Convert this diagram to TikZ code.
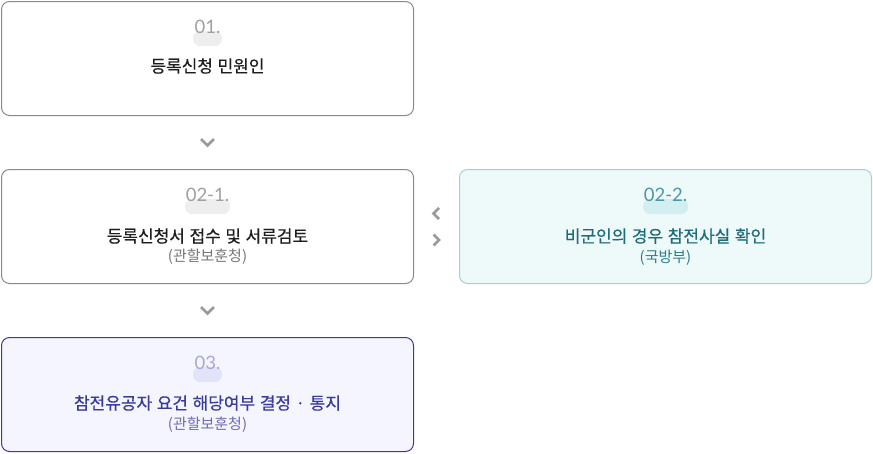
\documentclass[tikz,border=0pt]{standalone}
\usepackage{fontspec}
\setmainfont[WordSpace=1.3]{Noto Sans CJK KR}
\newfontfamily\ttlfont[WordSpace=1.2,FakeBold=0.4]{Noto Sans CJK KR}
\newfontfamily\numfont{Lato}
\usetikzlibrary{calc}
\definecolor{graybd}{HTML}{8A8A8A}
\definecolor{chevc}{HTML}{9A9A9A}
\definecolor{graynum}{HTML}{A0A0A0}
\definecolor{graypill}{HTML}{EEEEEE}
\definecolor{graytitle}{HTML}{1E1E1E}
\definecolor{graysub}{HTML}{777777}
\definecolor{tealbd}{HTML}{9ED4D6}
\definecolor{tealfill}{HTML}{EEF9FA}
\definecolor{tealnum}{HTML}{4A98A3}
\definecolor{tealpill}{HTML}{D2EEF0}
\definecolor{tealtitle}{HTML}{1E6C78}
\definecolor{tealsub}{HTML}{2E7E89}
\definecolor{indbd}{HTML}{3A3AA6}
\definecolor{indfill}{HTML}{F5F5FF}
\definecolor{indnum}{HTML}{A8A8D8}
\definecolor{indpill}{HTML}{E2E2F8}
\definecolor{indtitle}{HTML}{3A3A9C}
\definecolor{indsub}{HTML}{6C6CB2}
\tikzset{
  box/.style={draw, line width=1pt, rounded corners=8pt, minimum width=412pt, minimum height=114pt, inner sep=0pt},
  pill/.style={rounded corners=7pt, minimum height=15pt, inner sep=0pt},
  numtxt/.style={font=\numfont\fontsize{18.5pt}{18.5pt}\selectfont, inner sep=0pt},
  ttl/.style={font=\ttlfont\fontsize{17pt}{17pt}\selectfont, inner sep=0pt},
  subt/.style={font=\fontsize{15pt}{15pt}\selectfont, inner sep=0pt},
  chev/.style={draw=chevc, line width=2.8pt, line cap=butt, line join=miter}
}
\begin{document}
\begin{tikzpicture}[x=1pt,y=-1pt]
\useasboundingbox (0,0) rectangle (873,453);
% boxes
\node[box, draw=graybd, fill=white] (b1) at (207.5,58.5) {};
\node[box, draw=graybd, fill=white] (b21) at (207.5,226.5) {};
\node[box, draw=tealbd, fill=tealfill] (b22) at (665.5,226.5) {};
\node[box, draw=indbd, fill=indfill] (b3) at (207.5,394.5) {};
% box 1
\node[pill, fill=graypill, minimum width=29pt] (p1) at ([yshift=-37.5pt]b1.north) {};
\node[numtxt, text=graynum] (n1) at ([yshift=-26pt]b1.north) {01.};
\node[ttl, text=graytitle] (t1) at ([yshift=-65pt]b1.north) {등록신청 민원인};
% box 2-1
\node[pill, fill=graypill, minimum width=45pt] (p21) at ([yshift=-37.5pt]b21.north) {};
\node[numtxt, text=graynum] (n21) at ([yshift=-26pt]b21.north) {02-1.};
\node[ttl, text=graytitle] (t21) at ([yshift=-67pt]b21.north) {등록신청서 접수 및 서류검토};
\node[subt, text=graysub] (s21) at ([yshift=-88pt]b21.north) {(관할보훈청)};
% box 2-2
\node[pill, fill=tealpill, minimum width=45pt] (p22) at ([yshift=-37.5pt]b22.north) {};
\node[numtxt, text=tealnum] (n22) at ([yshift=-26pt]b22.north) {02-2.};
\node[ttl, text=tealtitle] (t22) at ([yshift=-67pt]b22.north) {비군인의 경우 참전사실 확인};
\node[subt, text=tealsub] (s22) at ([yshift=-89pt]b22.north) {(국방부)};
% box 3
\node[pill, fill=indpill, minimum width=29pt] (p3) at ([yshift=-37.5pt]b3.north) {};
\node[numtxt, text=indnum] (n3) at ([yshift=-26pt]b3.north) {03.};
\node[ttl, text=indtitle] (t3) at ([yshift=-66pt]b3.north) {참전유공자 요건 해당여부 결정 · 통지};
\node[subt, text=indsub] (s3) at ([yshift=-88pt]b3.north) {(관할보훈청)};
% chevrons
\coordinate (c1) at ($(b1.south)!0.5!(b21.north)$);
\coordinate (c2) at ($(b21.south)!0.5!(b3.north)$);
\coordinate (cm) at ($(b21.east)!0.5!(b22.west)$);
\draw[chev, shift={(c1)}] (-6.5,-3.5) -- (0,3) -- (6.5,-3.5);
\draw[chev, shift={(c2)}] (-6.5,-3.5) -- (0,3) -- (6.5,-3.5);
\draw[chev, shift={(cm)}] (2.5,-18.5) -- (-3,-13) -- (2.5,-7.5);
\draw[chev, shift={(cm)}] (-3,8) -- (2.5,13.5) -- (-3,19);
\end{tikzpicture}
\end{document}
